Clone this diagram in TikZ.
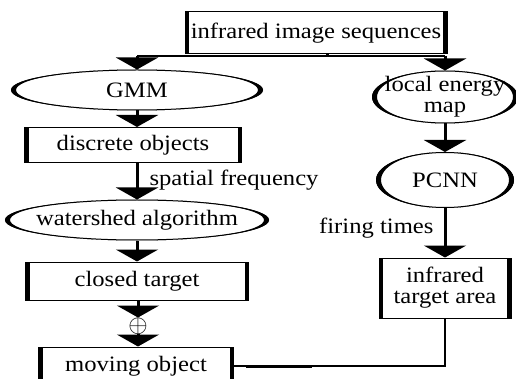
\documentclass[tikz,border=0pt]{standalone}
\usepackage{fontspec}
\setmainfont{Liberation Serif}[FakeStretch=1.12]
\usetikzlibrary{arrows.meta,calc,shapes.geometric,positioning}

\tikzset{
	procbox/.style={draw, rectangle, line width=1pt, inner sep=0pt, align=center,
		path picture={
			\draw[line width=8pt] (path picture bounding box.north west) -- (path picture bounding box.south west);
			\draw[line width=8pt] (path picture bounding box.north east) -- (path picture bounding box.south east);
		}},
	procell/.style={draw, ellipse, line width=1pt, inner sep=-15pt, align=center},
	flow/.style={line width=3pt, ->},
	thinline/.style={line width=1.2pt},
}

\begin{document}
\begin{tikzpicture}[x=1pt, y=-1pt, font=\fontsize{22}{21}\selectfont]
	\useasboundingbox (0,0) rectangle (516,379);

	% left column
	\node[procbox, minimum width=262pt, minimum height=42pt] (seq) at (316,33) {infrared image sequences};
	\node[procell, minimum width=251pt, minimum height=40pt] (gmm) at (137,90) {GMM};
	\node[procbox, minimum width=217pt, minimum height=35pt] (discrete) at (133,145) {discrete objects};
	\node[procell, minimum width=263pt, minimum height=40pt] (watershed) at (137,220) {watershed algorithm};
	\node[procbox, minimum width=223pt, minimum height=38pt] (closed) at (137,281) {closed target};
	\node[inner sep=0pt, font=\fontsize{23}{23}\selectfont] (plus) at (138,326) {$\oplus$};
	\node[procbox, minimum width=195pt, minimum height=38pt] (moving) at (136,366) {moving object};

	% right column
	\node[procell, minimum width=145pt, minimum height=52pt] (energy) at (445,97) {local energy\\map};
	\node[procell, minimum width=137pt, minimum height=55pt] (pcnn) at (445,180) {PCNN};
	\node[procbox, minimum width=132pt, minimum height=60pt] (target) at (445,288) {infrared\\target area};

	% labels
	\node[anchor=west] (spatial) at (146,180) {spatial frequency};
	\node[anchor=east] (firing) at (437,228) {firing times};

	% thick ends of the ellipses
	\foreach \nd in {gmm,energy,pcnn,watershed}
		\fill[even odd rule] let \p0=(\nd.center), \p1=(\nd.east), \p2=(\nd.north) in
			(\p0) ellipse ({abs(\x1-\x0)} and {abs(\y2-\y0)})
			(\p0) ellipse ({abs(\x1-\x0)-5pt} and {abs(\y2-\y0)});

	\coordinate (forkL) at (137,56);
	\coordinate (forkR) at (445,56);

	\begin{scope}[>={Triangle[width=42pt,length=12pt]}]
		\draw[thinline] (forkL) -- (forkR);
		\draw[line width=3pt] ($(seq.south)+(11,0)$) -- ($(seq.south)+(11,2)$);
		\draw[flow] (forkL) -- (gmm);
		\draw[flow] (forkR) -- (energy);
		\draw[flow] (gmm.south) -- (gmm.south |- discrete.north);
		\draw[flow] (gmm.south |- discrete.south) -- (watershed.north);
		\draw[flow] (watershed) -- (closed);
		\draw[flow] (closed.south -| plus) -- (plus);
		\draw[flow] (plus) -- (plus |- moving.north);
		\draw[flow] (energy) -- (pcnn);
		\draw[flow] (pcnn) -- (target);
		\draw[line width=1.5pt] (target.south) |- (moving.east);
		\draw[line width=3pt] ($(moving.east)+(12,0)$) -- ($(moving.east)+(78,0)$);
	\end{scope}
\end{tikzpicture}
\end{document}
